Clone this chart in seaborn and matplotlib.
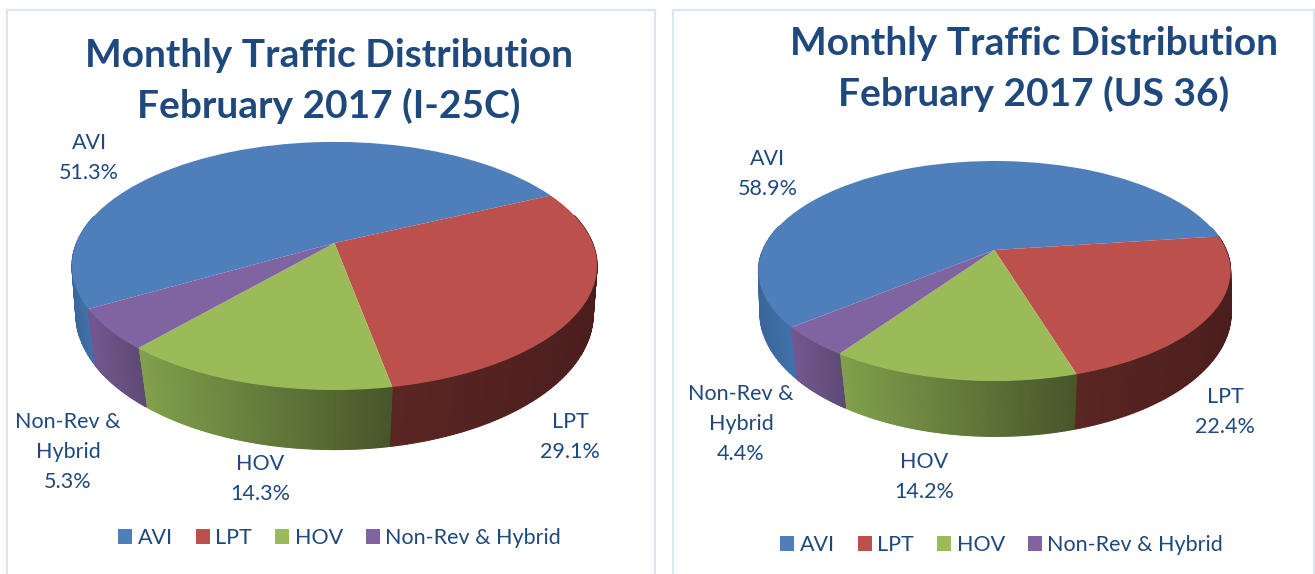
#!/usr/bin/env python3

import matplotlib
matplotlib.use("Agg")
import matplotlib.pyplot as plt
import numpy as np
import seaborn as sns
from matplotlib.collections import PolyCollection
from matplotlib.colors import to_rgb
from matplotlib.transforms import Transform

names = ["AVI", "LPT", "HOV", "Non-Rev & Hybrid"]
i25_values = [51.3, 29.1, 14.3, 5.3]
us36_values = [58.9, 22.4, 14.2, 4.4]
i25_labels = ["AVI\n51.3%", "LPT\n29.1%", "HOV\n14.3%", "Non-Rev &\nHybrid\n5.3%"]
us36_labels = ["AVI\n58.9%", "LPT\n22.4%", "HOV\n14.2%", "Non-Rev &\nHybrid\n4.4%"]
i25_title = "Monthly Traffic Distribution\nFebruary 2017 (I-25C)"
us36_title = "Monthly Traffic Distribution\nFebruary 2017 (US 36)"

COLORS = ["#4F7FBA", "#BC504D", "#9BBB59", "#8064A2"]
WALL_LEFT = ["#3A6598", "#5A2622", "#82A04C", "#735890"]
WALL_RIGHT = ["#4173AC", "#4A1E1E", "#46562A", "#5F4A75"]
TEXT = "#1F497D"
BORDER = "#DCE6F2"

W, H = 1315, 574


class Perspective(Transform):
    """Unit circle -> tilted disc, in pixel coords of the panel."""
    input_dims = output_dims = 2

    def __init__(self, cx, cy, rx, ry, k):
        super().__init__()
        self.p = (cx, cy, rx, ry, k)

    def transform_non_affine(self, xy):
        cx, cy, rx, ry, k = self.p
        xy = np.asarray(xy)
        w = 1 + k * xy[:, 1]
        return np.column_stack((cx + rx * xy[:, 0] / w, cy - ry * xy[:, 1] / w))


def draw_walls(ax, wedges, top, bottom):
    for i, wedge in enumerate(wedges):
        t = np.radians(np.linspace(wedge.theta1, wedge.theta2, 120))
        unit = np.column_stack((np.cos(t), np.sin(t)))
        up = top.transform_non_affine(unit)
        low = bottom.transform_non_affine(unit)
        front = unit[:, 1] < 0
        x0, x1 = low[front, 0].min(), low[front, 0].max()
        c0, c1 = np.array(to_rgb(WALL_LEFT[i])), np.array(to_rgb(WALL_RIGHT[i]))
        quads, cols = [], []
        for j in range(len(t) - 1):
            if unit[j, 1] > 0.25 or unit[j + 1, 1] > 0.25:
                continue
            quads.append([up[j], up[j + 1], low[j + 1], low[j]])
            f = np.clip((low[j, 0] - x0) / max(x1 - x0, 1), 0, 1)
            cols.append(c0 + (c1 - c0) * f)
        ax.add_collection(PolyCollection(quads, facecolors=cols, edgecolors=cols,
                                         linewidths=0.8, zorder=1))


def draw_panel(box, values, labels, title, start, top_p, bottom_p, label_pos,
               title_xy, legend_xy):
    x0, x1 = box
    ax = fig.add_axes([x0 / W, 0, (x1 - x0) / W, (H - 10) / H])
    wedges, _ = ax.pie(values, colors=COLORS, startangle=start, counterclock=False,
                       wedgeprops={"linewidth": 0})

    top = Perspective(*top_p)
    bottom = Perspective(*bottom_p)
    for wedge in wedges:
        wedge.set_transform(top + ax.transData)
        wedge.set_zorder(2)
    draw_walls(ax, wedges, top, bottom)

    ax.set_aspect("auto")
    ax.set_xlim(x0, x1)
    ax.set_ylim(H, 10)
    ax.set_frame_on(True)
    sns.despine(ax=ax, top=False, right=False, left=False, bottom=True)
    for side in ["top", "left", "right"]:
        ax.spines[side].set_color(BORDER)
        ax.spines[side].set_linewidth(1.6)

    ax.text(title_xy[0], title_xy[1], title, color=TEXT, fontsize=TITLE_SIZE,
            fontweight="bold", ha="center", va="center", linespacing=1.46)
    for lab, (lx, ly) in zip(labels, label_pos):
        ax.text(lx, ly, lab, color=TEXT, fontsize=LABEL_SIZE, ha="center",
                va="center", linespacing=1.63)

    ax.legend(wedges, names, loc="center", bbox_to_anchor=legend_xy,
              bbox_transform=ax.transData, ncol=4, frameon=False,
              fontsize=LABEL_SIZE, labelcolor=TEXT, handlelength=0.66,
              handleheight=0.66, handletextpad=0.25, columnspacing=1.07)


sns.set_theme(style="white")
plt.rcParams["font.family"] = ["Lato", "DejaVu Sans"]
TITLE_SIZE = 28
LABEL_SIZE = 15.5

fig = plt.figure(figsize=(W / 100, H / 100), dpi=100)

draw_panel((7, 655), i25_values, i25_labels, i25_title, 210.0,
           (334.5, 243, 258, 119.8, 0.185), (334.5, 294, 256, 133, 0.145),
           [(89, 158), (570, 437), (260, 479), (68, 452)],
           (329, 81), (339.5, 538))
draw_panel((673, 1314), us36_values, us36_labels, us36_title, 219.8,
           (994.5, 250, 231.7, 106, 0.191), (995.5, 294, 233, 121, 0.15),
           [(768, 174), (1225, 412), (924, 477), (741, 424)],
           (1034, 69), (1001.5, 545))

fig.savefig("out.png", dpi=100)
